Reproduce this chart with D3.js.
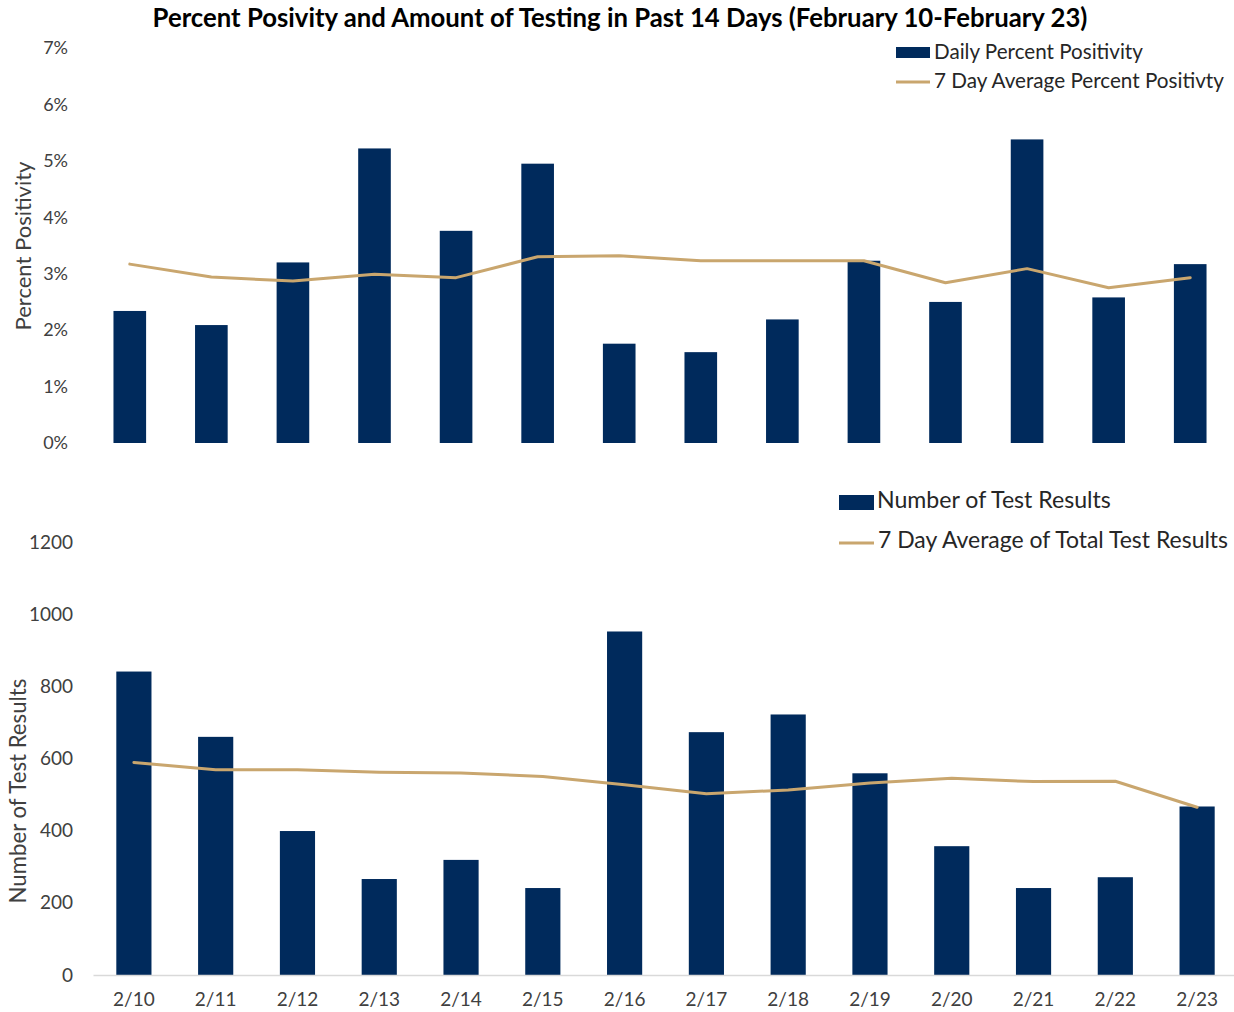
<!DOCTYPE html>
<html>
<head>
<meta charset="utf-8">
<script src="https://cdn.jsdelivr.net/npm/d3@7"></script>
<style>
  body { margin: 0; background: #fff; }
  svg { font-family: Lato, "Open Sans", sans-serif; }
</style>
</head>
<body>
<svg id="chart" width="1234" height="1012"></svg>
<script>
// values
var dates = ["2/10", "2/11", "2/12", "2/13", "2/14", "2/15", "2/16", "2/17", "2/18", "2/19", "2/20", "2/21", "2/22", "2/23"];
var dailyPct = [2.34, 2.09, 3.20, 5.22, 3.76, 4.95, 1.76, 1.61, 2.19, 3.23, 2.50, 5.38, 2.58, 3.17];
var avgPct = [3.17, 2.94, 2.87, 2.99, 2.93, 3.30, 3.32, 3.23, 3.23, 3.23, 2.84, 3.09, 2.75, 2.93];
var testCounts = [841, 660, 399, 266, 319, 241, 952, 673, 722, 559, 357, 241, 271, 467];
var avgTests = [589, 569, 569, 562, 560, 550, 527, 502, 513, 532, 545, 536, 537, 465];
var pctTicks = [0, 1, 2, 3, 4, 5, 6, 7];
var countTicks = [0, 200, 400, 600, 800, 1000, 1200];

var navy = "#002a5c", tan = "#c9a66e";

function main() {
    var svg = d3.select("#chart");

    // shrink or grow a text so it takes the given width
    function fit(sel, w) {
        var fs = parseFloat(sel.attr("font-size"));
        var len = sel.node().getComputedTextLength();
        sel.attr("font-size", (fs * w / len).toFixed(2));
        return sel;
    }

    fit(svg.append("text")
        .attr("x", 620).attr("y", 27)
        .attr("text-anchor", "middle")
        .attr("font-size", 20).attr("font-weight", "bold")
        .attr("fill", "#000")
        .text("Percent Posivity and Amount of Testing in Past 14 Days (February 10-February 23)"), 935);

    // ---------- top chart: percent positivity ----------
    var x1 = d3.scaleBand().domain(dates).range([89, 1231]).paddingInner(0.6).paddingOuter(0.3);
    var y1 = d3.scaleLinear().domain([0, 7]).range([443, 48]);

    var ax1 = svg.append("g")
        .attr("transform", "translate(68,0)")
        .call(d3.axisLeft(y1).tickValues(pctTicks).tickSize(0).tickPadding(0)
            .tickFormat(function(d) { return d + "%"; }));
    ax1.select(".domain").remove();
    ax1.attr("font-size", null).attr("font-family", null);
    ax1.selectAll("text").style("font-size", "18px").attr("fill", "#404040");

    fit(svg.append("text")
        .attr("transform", "translate(31,246) rotate(-90)")
        .attr("text-anchor", "middle")
        .attr("font-size", 20).attr("fill", "#404040")
        .text("Percent Positivity"), 169);

    svg.append("g").selectAll("rect")
        .data(dailyPct)
        .enter().append("rect")
        .attr("x", function(d, i) { return x1(dates[i]); })
        .attr("y", function(d) { return y1(d); })
        .attr("width", x1.bandwidth())
        .attr("height", function(d) { return y1(0) - y1(d); })
        .attr("fill", navy);

    var line1 = d3.line()
        .x(function(d, i) { return x1(dates[i]) + x1.bandwidth() / 2; })
        .y(function(d) { return y1(d); });
    svg.append("path")
        .datum(avgPct)
        .attr("d", line1)
        .attr("fill", "none").attr("stroke", tan)
        .attr("stroke-width", 3).attr("stroke-linejoin", "round").attr("stroke-linecap", "round");

    // legend top
    svg.append("rect").attr("x", 896).attr("y", 47).attr("width", 34).attr("height", 11).attr("fill", navy);
    fit(svg.append("text").attr("x", 934).attr("y", 59).attr("font-size", 20).attr("fill", "#262626")
        .text("Daily Percent Positivity"), 209);
    svg.append("line").attr("x1", 896).attr("x2", 930).attr("y1", 82).attr("y2", 82)
        .attr("stroke", tan).attr("stroke-width", 3);
    fit(svg.append("text").attr("x", 934).attr("y", 88).attr("font-size", 20).attr("fill", "#262626")
        .text("7 Day Average Percent Positivty"), 290);

    // ---------- bottom chart: number of tests ----------
    var x2 = d3.scaleBand().domain(dates).range([93, 1238]).paddingInner(0.57).paddingOuter(0.285);
    var y2 = d3.scaleLinear().domain([0, 1200]).range([975, 542]);

    var ax2 = svg.append("g")
        .attr("transform", "translate(73,0)")
        .call(d3.axisLeft(y2).tickValues(countTicks).tickSize(0).tickPadding(0)
            .tickFormat(d3.format("d")));
    ax2.select(".domain").remove();
    ax2.attr("font-size", null).attr("font-family", null);
    ax2.selectAll("text").style("font-size", "19px").attr("fill", "#404040");

    fit(svg.append("text")
        .attr("transform", "translate(26,791) rotate(-90)")
        .attr("text-anchor", "middle")
        .attr("font-size", 20).attr("fill", "#404040")
        .text("Number of Test Results"), 225);

    svg.append("g").selectAll("rect")
        .data(testCounts)
        .enter().append("rect")
        .attr("x", function(d, i) { return x2(dates[i]); })
        .attr("y", function(d) { return y2(d); })
        .attr("width", x2.bandwidth())
        .attr("height", function(d) { return y2(0) - y2(d); })
        .attr("fill", navy);

    var xa = svg.append("g")
        .attr("transform", "translate(0,975)")
        .call(d3.axisBottom(x2).tickSize(0).tickPadding(18).tickSizeOuter(0));
    xa.select(".domain").attr("stroke", "#d9d9d9").attr("stroke-width", 1.5);
    xa.attr("font-size", null).attr("font-family", null);
    xa.selectAll("text").style("font-size", "19px").attr("fill", "#404040");

    var line2 = d3.line()
        .x(function(d, i) { return x2(dates[i]) + x2.bandwidth() / 2; })
        .y(function(d) { return y2(d); });
    svg.append("path")
        .datum(avgTests)
        .attr("d", line2)
        .attr("fill", "none").attr("stroke", tan)
        .attr("stroke-width", 3).attr("stroke-linejoin", "round").attr("stroke-linecap", "round");

    // legend bottom
    svg.append("rect").attr("x", 839).attr("y", 495).attr("width", 35).attr("height", 15).attr("fill", navy);
    fit(svg.append("text").attr("x", 877).attr("y", 508).attr("font-size", 21).attr("fill", "#262626")
        .text("Number of Test Results"), 234);
    svg.append("line").attr("x1", 839).attr("x2", 874).attr("y1", 543).attr("y2", 543)
        .attr("stroke", tan).attr("stroke-width", 3);
    fit(svg.append("text").attr("x", 878).attr("y", 548).attr("font-size", 21).attr("fill", "#262626")
        .text("7 Day Average of Total Test Results"), 350);
}
main();
</script>
</body>
</html>
